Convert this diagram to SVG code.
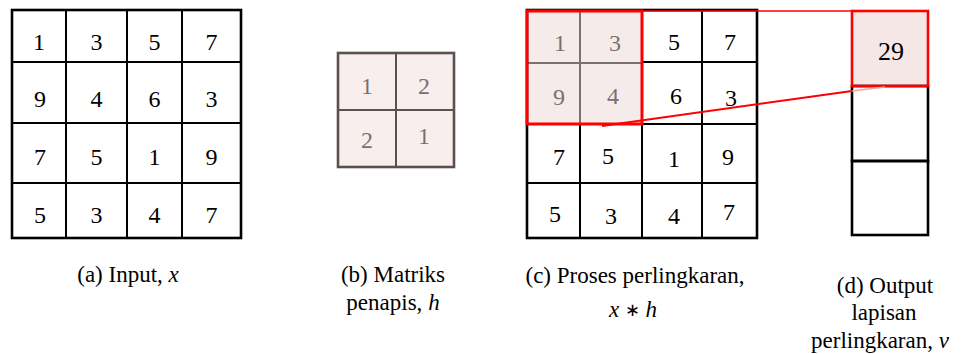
<svg xmlns="http://www.w3.org/2000/svg" width="968" height="354" viewBox="0 0 968 354">
<rect width="968" height="354" fill="#fff"/>

<g id="grid-input">
  <path d="M66 10V238M127 10V238M182 10V238M12 62H241M12 123H241M12 183H241" stroke="#000" stroke-width="2" fill="none"/>
  <rect x="12" y="10" width="229" height="228" fill="none" stroke="#000" stroke-width="2.6"/>
  <g text-anchor="middle" fill="#000">
  <text font-family="Liberation Serif" font-size="24" x="39" y="50">1</text><text font-family="Liberation Serif" font-size="24" x="96.5" y="50">3</text><text font-family="Liberation Serif" font-size="24" x="154.5" y="50">5</text><text font-family="Liberation Serif" font-size="24" x="211.5" y="50">7</text>
  <text font-family="Liberation Serif" font-size="24" x="40" y="107">9</text><text font-family="Liberation Serif" font-size="24" x="96.5" y="107">4</text><text font-family="Liberation Serif" font-size="24" x="154.5" y="107">6</text><text font-family="Liberation Serif" font-size="24" x="211.5" y="107">3</text>
  <text font-family="Liberation Serif" font-size="24" x="40" y="165">7</text><text font-family="Liberation Serif" font-size="24" x="96.5" y="165">5</text><text font-family="Liberation Serif" font-size="24" x="154.5" y="165">1</text><text font-family="Liberation Serif" font-size="24" x="211.5" y="165">9</text>
  <text font-family="Liberation Serif" font-size="24" x="40" y="223">5</text><text font-family="Liberation Serif" font-size="24" x="96.5" y="223">3</text><text font-family="Liberation Serif" font-size="24" x="154.5" y="223">4</text><text font-family="Liberation Serif" font-size="24" x="211.5" y="223">7</text>
  </g>
</g>

<g id="filter">
  <rect x="338" y="53" width="116" height="114" fill="#f8eeee" stroke="#5a5050" stroke-width="2.6"/>
  <path d="M396 53V167M338 110H454" stroke="#5a5050" stroke-width="2" fill="none"/>
  <g text-anchor="middle" fill="#7a7070">
  <text font-family="Liberation Serif" font-size="24" x="367" y="94">1</text><text font-family="Liberation Serif" font-size="24" x="424" y="94">2</text>
  <text font-family="Liberation Serif" font-size="24" x="367" y="148">2</text><text font-family="Liberation Serif" font-size="24" x="424" y="144">1</text>
  </g>
</g>

<g id="grid-conv">
  <rect x="527" y="11" width="115" height="112" fill="#f6ebeb"/>
  <path d="M580 123V238M642 10V238M702 10V238M642 62H757M527 124H757M527 183H757" stroke="#000" stroke-width="2" fill="none"/>
  <path d="M580 11V123M527 63H642" stroke="#7d7070" stroke-width="2" fill="none"/>
  <rect x="527" y="10" width="230" height="228" fill="none" stroke="#000" stroke-width="2.6"/>
  <g text-anchor="middle" fill="#7a7070">
  <text font-family="Liberation Serif" font-size="24" x="560" y="51">1</text><text font-family="Liberation Serif" font-size="24" x="615" y="51">3</text>
  <text font-family="Liberation Serif" font-size="24" x="559" y="105">9</text><text font-family="Liberation Serif" font-size="24" x="613" y="104">4</text>
  </g>
  <g text-anchor="middle" fill="#000">
  <text font-family="Liberation Serif" font-size="24" x="674" y="50">5</text><text font-family="Liberation Serif" font-size="24" x="730" y="50">7</text>
  <text font-family="Liberation Serif" font-size="24" x="676" y="104">6</text><text font-family="Liberation Serif" font-size="24" x="731" y="106">3</text>
  <text font-family="Liberation Serif" font-size="24" x="559" y="165">7</text><text font-family="Liberation Serif" font-size="24" x="608" y="164">5</text><text font-family="Liberation Serif" font-size="24" x="674" y="167">1</text><text font-family="Liberation Serif" font-size="24" x="728" y="165">9</text>
  <text font-family="Liberation Serif" font-size="24" x="555" y="222">5</text><text font-family="Liberation Serif" font-size="24" x="611" y="224">3</text><text font-family="Liberation Serif" font-size="24" x="674" y="224">4</text><text font-family="Liberation Serif" font-size="24" x="729" y="220">7</text>
  </g>
  <rect x="527" y="11" width="115" height="113" fill="none" stroke="#ff0000" stroke-width="3"/>
</g>

<g id="output">
  <rect x="852" y="11" width="76" height="75" fill="#f6e7e7"/>
  <rect x="852" y="86" width="76" height="75" fill="none" stroke="#000" stroke-width="2.6"/>
  <rect x="852" y="161" width="76" height="74" fill="none" stroke="#000" stroke-width="2.6"/>
  <rect x="852" y="11" width="76" height="75" fill="none" stroke="#ff0000" stroke-width="2.6"/>
  <text font-family="Liberation Serif" font-size="26" x="891" y="60" text-anchor="middle" fill="#000">29</text>
</g>

<g id="connectors" fill="none">
  <line x1="642" y1="11" x2="852" y2="11" stroke="#ff0000" stroke-width="1.5"/>
  <line x1="602" y1="126" x2="852" y2="91" stroke="#ff0000" stroke-width="2"/>
  <line x1="852" y1="91" x2="885" y2="87" stroke="#f7a0a0" stroke-width="1.5"/>
</g>

<g id="captions" text-anchor="middle" fill="#000">
  <text font-family="Liberation Serif" font-size="23" x="128" y="282">(a) Input, <tspan font-style="italic">x</tspan></text>
  <text font-family="Liberation Serif" font-size="23" x="393" y="282">(b) Matriks</text>
  <text font-family="Liberation Serif" font-size="23" x="393" y="310">penapis, <tspan font-style="italic">h</tspan></text>
  <text font-family="Liberation Serif" font-size="23" x="635" y="283">(c) Proses perlingkaran,</text>
  <text font-family="Liberation Serif" font-size="23" x="633" y="317"><tspan font-style="italic">x</tspan> <tspan font-size="18" dy="-1">∗</tspan> <tspan font-style="italic" dy="1">h</tspan></text>
  <text font-family="Liberation Serif" font-size="23" x="885" y="293">(d) Output</text>
  <text font-family="Liberation Serif" font-size="23" x="884" y="320">lapisan</text>
  <text font-family="Liberation Serif" font-size="23" x="880" y="348">perlingkaran, <tspan font-style="italic">v</tspan></text>
</g>
</svg>
